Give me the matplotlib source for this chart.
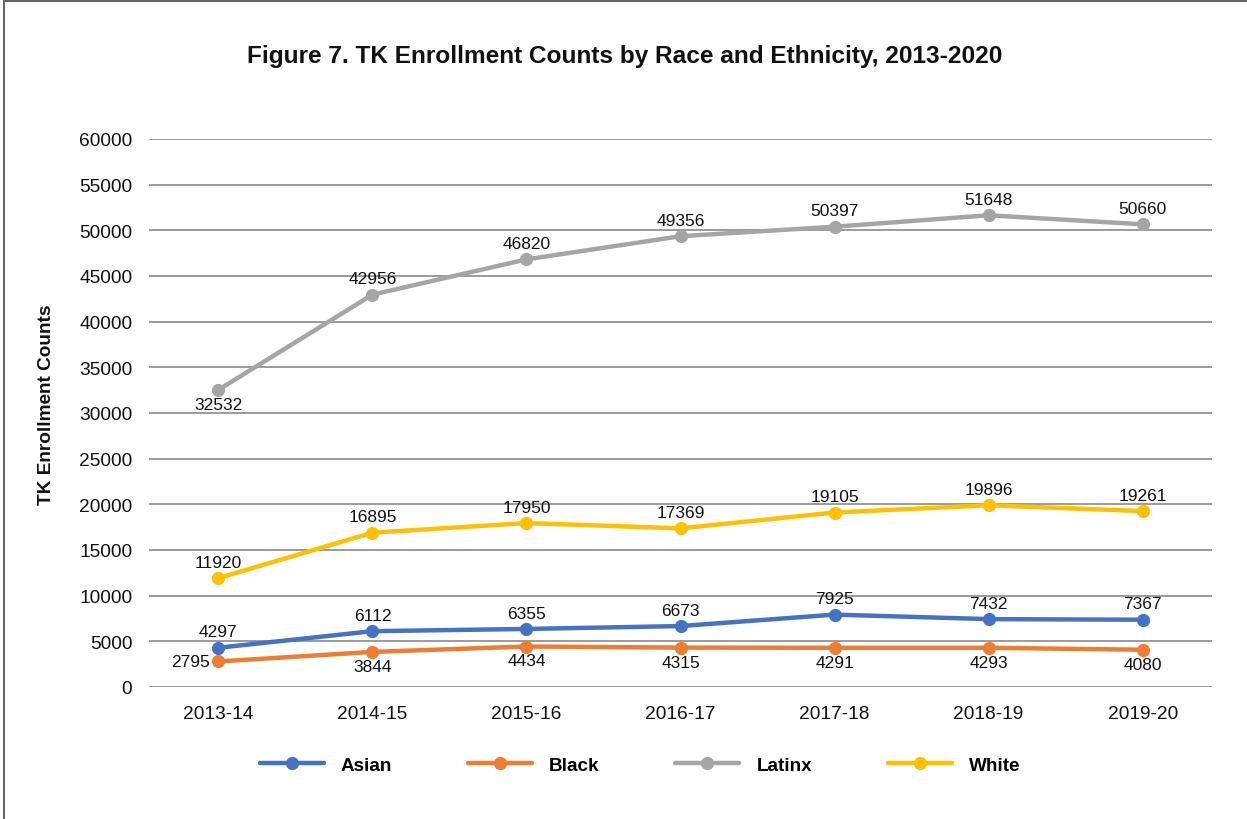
import matplotlib
matplotlib.use("Agg")
import matplotlib.pyplot as plt
from matplotlib.lines import Line2D

plt.rcParams["font.family"] = ["Liberation Sans", "DejaVu Sans"]

years = ["2013-14", "2014-15", "2015-16", "2016-17", "2017-18", "2018-19", "2019-20"]
asian = [4297, 6112, 6355, 6673, 7925, 7432, 7367]
black = [2795, 3844, 4434, 4315, 4291, 4293, 4080]
latinx = [32532, 42956, 46820, 49356, 50397, 51648, 50660]
white = [11920, 16895, 17950, 17369, 19105, 19896, 19261]

series = [
    ("Asian", asian, "#4472C4"),
    ("Black", black, "#ED7D31"),
    ("Latinx", latinx, "#A5A5A5"),
    ("White", white, "#FFC000"),
]

fig = plt.figure(figsize=(12.47, 8.2), dpi=100)
ax = fig.add_axes([149 / 1247, 1 - 688 / 820, (1212 - 149) / 1247, (688 - 140) / 820])

x = list(range(len(years)))
for name, vals, color in series:
    ax.plot(x, vals, color=color, lw=3.2, marker="o", ms=8.5, solid_capstyle="round", zorder=3)

# value labels: offsets in points (dx, dy, ha, va)
def place(name, i):
    if name == "Latinx" and i == 0:
        return (0, -5, "center", "top")
    if name == "Black":
        if i == 0:
            return (-6, 0, "right", "center")
        return (0, -5, "center", "top")
    return (0, 6, "center", "bottom")

for name, vals, color in series:
    for i, v in enumerate(vals):
        dx, dy, ha, va = place(name, i)
        ax.annotate(str(v), (i, v), xytext=(dx, dy), textcoords="offset points",
                    ha=ha, va=va, fontsize=12.5, color="#111111", zorder=4)

ax.set_xlim(-0.45, 6.45)
ax.set_ylim(0, 60000)
ax.set_yticks(range(0, 60001, 5000))
ax.set_xticks(x)
ax.set_xticklabels(years)
ax.tick_params(axis="both", length=0, labelsize=13.8, colors="#111111")
ax.tick_params(axis="x", pad=13)
ax.tick_params(axis="y", pad=12)
ax.yaxis.grid(True, color="#808080", lw=1.1)
ax.set_axisbelow(True)
for s in ax.spines.values():
    s.set_visible(False)

fig.text(47 / 1247, 1 - 405 / 820, "TK Enrollment Counts", rotation=90, ha="center", va="center",
         fontsize=13.7, fontweight="bold", color="#111111")

fig.text(625 / 1247, 1 - 56 / 820, "Figure 7. TK Enrollment Counts by Race and Ethnicity, 2013-2020",
         ha="center", va="center", fontsize=17.6, fontweight="bold", color="#111111")

handles = [Line2D([0], [0], color=c, lw=3.2, marker="o", ms=8.5, solid_capstyle="round") for _, _, c in series]
fig.legend(handles, [n for n, _, _ in series], loc="center", bbox_to_anchor=(640 / 1247, 1 - 766 / 820),
           ncol=4, frameon=False, handlelength=3.4, columnspacing=4.0, handletextpad=0.9,
           prop={"weight": "bold", "size": 13.6})

# figure frame: top and left edges
fig.add_artist(Line2D([4 / 1247, 4 / 1247], [0, 1 - 1 / 820], transform=fig.transFigure, color="#666666", lw=1.5))
fig.add_artist(Line2D([4 / 1247, 1], [1 - 1.5 / 820, 1 - 1.5 / 820], transform=fig.transFigure, color="#666666", lw=1.5))

fig.savefig("out.png", dpi=100, facecolor="white")
